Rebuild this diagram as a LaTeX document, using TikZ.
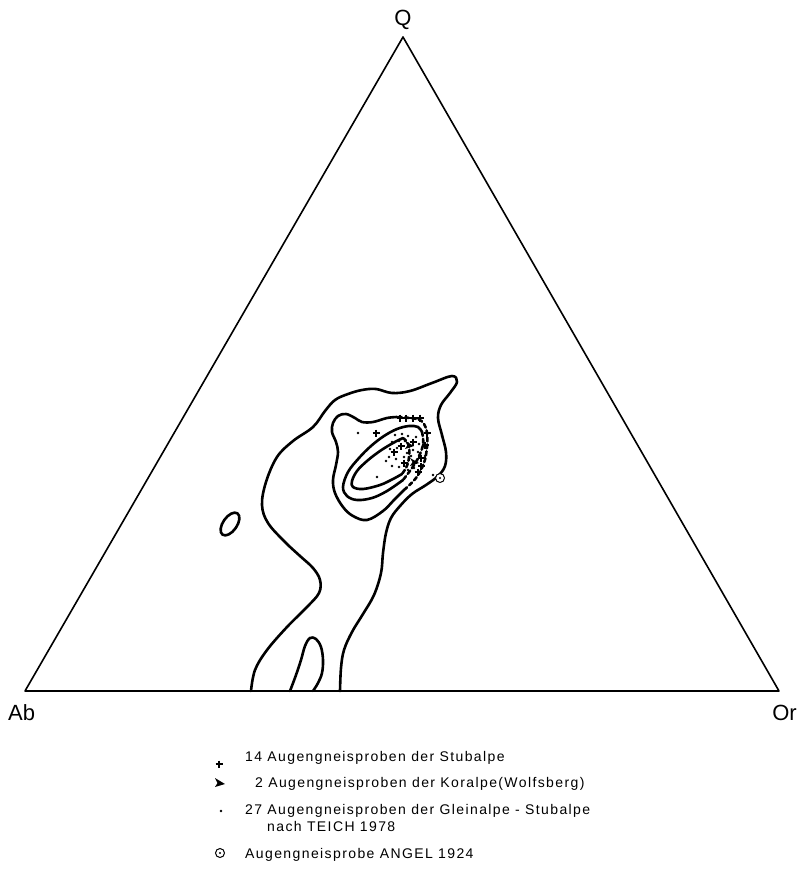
\documentclass[tikz,border=0pt]{standalone}
\usepackage{fontspec}
\setmainfont{Liberation Sans}
\newfontfamily\legfont[LetterSpace=10]{Liberation Sans}

\begin{document}
\begin{tikzpicture}[x=1pt,y=-1pt,
                side/.style={line width=1.6pt,line join=round},
                isoline/.style={line width=2.6pt,line cap=round,line join=round},
                hidden/.style={isoline,dash pattern=on 4pt off 3pt},
                corner/.style={font=\fontsize{22}{22}\selectfont,inner sep=0pt},
                legtext/.style={font=\legfont\fontsize{14}{16}\selectfont,anchor=base west,inner sep=0pt},
                cross/.style={line width=1.3pt},
                ringmark/.style={line width=1pt,fill=white}]
                \useasboundingbox (0,0) rectangle (802,871);
                \coordinate (Q) at (403,37);
                \coordinate (Ab) at (25,691);
                \coordinate (Or) at (779,691);
                \draw[side] (Ab) -- (Q) -- (Or) -- cycle;
                \node[corner,anchor=base] (labQ) at (403,25) {Q};
                \node[corner,anchor=base west] (labAb) at (8,720) {Ab};
                \node[corner,anchor=base east] (labOr) at (797,720) {Or};
                \draw[isoline] plot[smooth,tension=0.6] coordinates {
                    (251,691) (255,670) (267,650) (287,627) (307,607) (319,593) (320,580)
                    (313,568) (300,556) (285,542) (268,523) (262,505) (266,482) (277,457)
                    (293,441) (313,427) (325,411) (335,400) (348,394) (362,390) (376,389)
                    (392,393) (410,391) (432,383) (452,376) (457,382) (450,393) (441,405)
                    (438,418) (442,435) (446,452) (445,466) (438,476) (426,485) (412,494)
                    (400,506) (391,518) (386,533) (383,553) (381,573) (374,595) (363,614)
                    (352,632) (344,650) (341,668) (340,691)};
                \draw[isoline] plot[smooth,tension=0.6] coordinates {
                    (290,691) (296,675) (301,660) (305,646) (310,638) (316,639) (321,647)
                    (323,660) (322,673) (318,683) (313,691)};
                \draw[isoline,rotate around={55:(230,524)}] (230,524) ellipse[x radius=13pt,y radius=7pt];
                \draw[isoline] plot[smooth,tension=0.6] coordinates {
                    (397,417) (387,418) (373,422) (362,422) (355,418) (346,414) (338,416)
                    (333,423) (332,432) (336,442) (338,452) (336,465) (333,480) (335,493)
                    (343,507) (353,516) (367,520) (383,511) (394,500) (404,490)};
                \draw[hidden] plot[smooth,tension=0.6] coordinates {
                    (404,490) (416,478) (424,463) (427,447) (427,433) (424,424) (417,419) (397,417)};
                \draw[isoline] plot[smooth,tension=0.6] coordinates {
                    (403,480) (387,491) (372,498) (357,500) (347,496) (343,487) (348,472)
                    (359,458) (371,446) (384,436) (397,429) (409,426) (418,427) (422,432)};
                \draw[hidden] plot[smooth,tension=0.6] coordinates {
                    (422,432) (423,445) (416,462) (403,480)};
                \draw[isoline] plot[smooth,tension=0.6] coordinates {
                    (402,474) (393,479) (380,485) (363,489) (353,487) (352,481) (357,471)
                    (367,461) (380,451) (393,443) (403,438)};
                \draw[hidden] plot[smooth,tension=0.6] coordinates {
                    (403,438) (409,446) (408,463) (402,474)};
                \foreach \p in {(400,418),(406,418),(413,418),(420,418),(376,433),(427,433),
                    (401,446),(394,452),(413,442),(421,458),(421,466),(404,463),(418,472),(425,445)}
                    \draw[cross] \p +(-3.5,0) -- +(3.5,0) +(0,-3.5) -- +(0,3.5);
                \foreach \p in {(395,435),(402,434),(408,436),(416,437),(392,442),(399,441),
                    (405,441),(419,444),(390,449),(397,448),(407,453),(413,450),(389,457),
                    (396,459),(404,457),(411,456),(418,452),(392,466),(399,467),(408,470),
                    (414,468),(425,456),(358,433),(377,477),(442,436),(433,475),(386,461)}
                    \fill \p circle[radius=1.3pt];
                \foreach \p in {(409,445),(414,462)}
                    \fill \p +(-4,-4) -- +(5,1) -- +(-4,4) -- +(-1.5,0) -- cycle;
                \draw[ringmark] (440,478) circle[radius=4.5pt];
                \fill (440,478) circle[radius=1.2pt];
                \node[legtext] (leg1) at (245,761) {14 Augengneisproben der Stubalpe};
                \node[legtext] (leg2) at (255,787) {2 Augengneisproben der Koralpe(Wolfsberg)};
                \node[legtext] (leg3) at (245,814) {27 Augengneisproben der Gleinalpe - Stubalpe};
                \node[legtext] (leg3b) at (267,831) {nach TEICH 1978};
                \node[legtext] (leg4) at (245,858) {Augengneisprobe ANGEL 1924};
                \draw[cross] (219,764) +(-3.5,0) -- +(3.5,0) +(0,-3.5) -- +(0,3.5);
                \fill (219,783) +(-4,-5) -- +(6,1) -- +(-4,4) -- +(-1.5,0) -- cycle;
                \fill (221,811) circle[radius=1.3pt];
                \draw[ringmark] (220,853) circle[radius=4.5pt];
                \fill (220,853) circle[radius=1.2pt];
            \end{tikzpicture}
\end{document}
